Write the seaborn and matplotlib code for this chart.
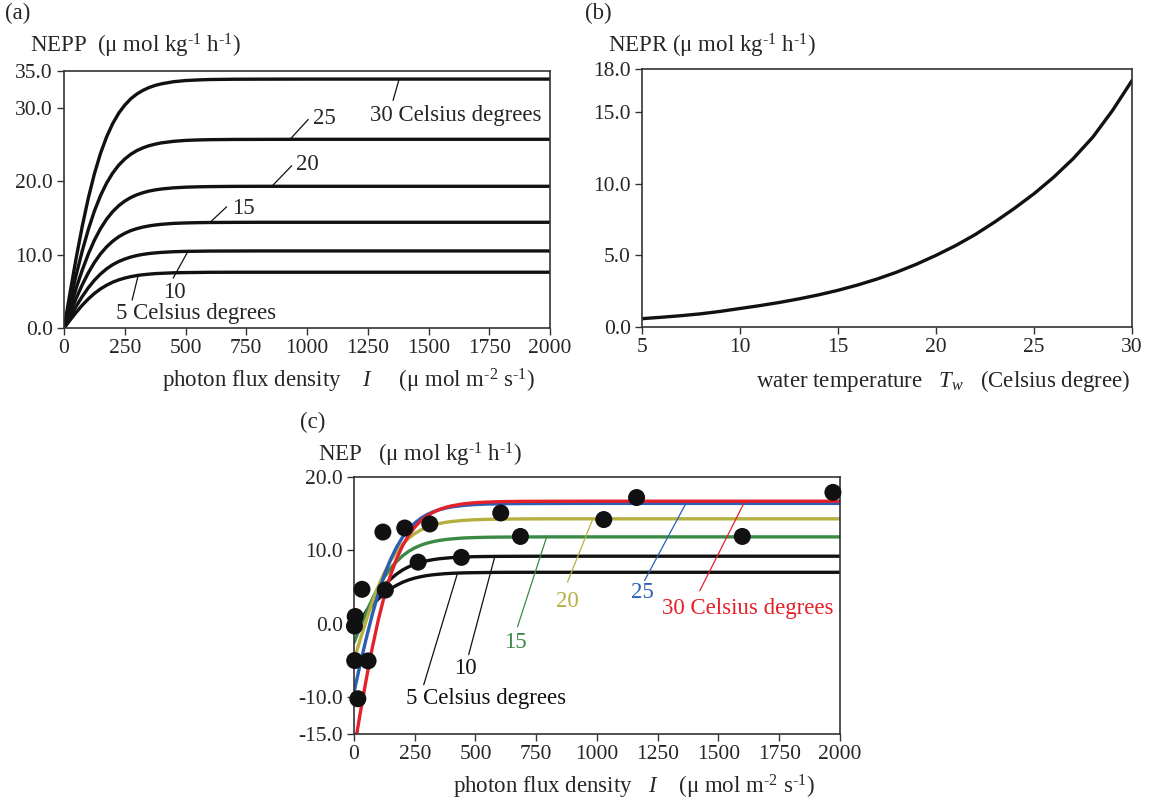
import matplotlib
matplotlib.use("Agg")
import matplotlib.pyplot as plt
import seaborn as sns

# ---------------- data ----------------
I_pts = [0, 25, 50, 75, 100, 125, 150, 175, 200, 225, 250, 275, 300, 325, 350, 375, 400,
         450, 500, 550, 600, 700, 800, 1000, 1500, 2000]

# (a) NEPP by water temperature
nepp_5  = [0, 1.09, 2.14, 3.11, 3.97, 4.71, 5.33, 5.83, 6.24, 6.56, 6.81, 7.00, 7.15, 7.26, 7.34,
           7.41, 7.45, 7.52, 7.55, 7.57, 7.59, 7.60, 7.60, 7.6, 7.6, 7.6]
nepp_10 = [0, 1.51, 2.96, 4.30, 5.49, 6.51, 7.36, 8.06, 8.62, 9.06, 9.40, 9.67, 9.88, 10.03, 10.15,
           10.23, 10.30, 10.39, 10.44, 10.46, 10.48, 10.49, 10.50, 10.5, 10.5, 10.5]
nepp_15 = [0, 2.07, 4.06, 5.90, 7.53, 8.93, 10.10, 11.05, 11.82, 12.43, 12.90, 13.27, 13.54, 13.75,
           13.91, 14.03, 14.12, 14.25, 14.31, 14.35, 14.37, 14.39, 14.40, 14.4, 14.4, 14.4]
nepp_20 = [0, 2.78, 5.44, 7.90, 10.09, 11.97, 13.54, 14.82, 15.85, 16.66, 17.29, 17.78, 18.15, 18.43,
           18.65, 18.81, 18.93, 19.09, 19.18, 19.23, 19.26, 19.29, 19.30, 19.3, 19.3, 19.3]
nepp_25 = [0, 3.70, 7.25, 10.52, 13.43, 15.94, 18.03, 19.73, 21.10, 22.18, 23.02, 23.67, 24.17, 24.54,
           24.83, 25.04, 25.21, 25.42, 25.55, 25.61, 25.65, 25.68, 25.69, 25.7, 25.7, 25.7]
nepp_30 = [0, 4.88, 9.56, 13.88, 17.72, 21.02, 23.78, 26.02, 27.83, 29.26, 30.36, 31.23, 31.88, 32.37,
           32.75, 33.04, 33.25, 33.54, 33.70, 33.78, 33.84, 33.88, 33.89, 33.9, 33.9, 33.9]

# (b) NEPR vs water temperature
Tw   = [5, 6, 7, 8, 9, 10, 11, 12, 13, 14, 15, 16, 17, 18, 19, 20, 21, 22, 23, 24, 25, 26, 27, 28, 29, 30]
nepr = [0.58, 0.68, 0.79, 0.92, 1.09, 1.29, 1.49, 1.71, 1.96, 2.24, 2.56, 2.93, 3.35, 3.83, 4.38, 5.0,
        5.68, 6.45, 7.33, 8.28, 9.3, 10.45, 11.75, 13.25, 15.1, 17.2]

# (c) NEP by water temperature
nep_5  = [-0.58, 0.51, 1.56, 2.53, 3.39, 4.13, 4.75, 5.25, 5.66, 5.98, 6.23, 6.42, 6.57, 6.68, 6.76,
          6.83, 6.88, 6.94, 6.97, 6.99, 7.01, 7.02, 7.02, 7.02, 7.02, 7.02]
nep_10 = [-1.29, 0.22, 1.67, 3.01, 4.20, 5.22, 6.07, 6.77, 7.33, 7.77, 8.11, 8.38, 8.59, 8.74, 8.86,
          8.94, 9.01, 9.10, 9.15, 9.17, 9.19, 9.20, 9.21, 9.21, 9.21, 9.21]
nep_15 = [-2.56, -0.49, 1.50, 3.34, 4.97, 6.37, 7.54, 8.49, 9.26, 9.87, 10.34, 10.71, 10.98, 11.19,
          11.35, 11.47, 11.56, 11.69, 11.75, 11.79, 11.81, 11.83, 11.84, 11.84, 11.84, 11.84]
nep_20 = [-5.0, -2.22, 0.44, 2.90, 5.09, 6.97, 8.54, 9.82, 10.85, 11.66, 12.29, 12.78, 13.15, 13.43,
          13.65, 13.81, 13.93, 14.09, 14.18, 14.23, 14.26, 14.29, 14.30, 14.3, 14.3, 14.3]
nep_25 = [-9.3, -5.60, -2.05, 1.22, 4.13, 6.64, 8.73, 10.43, 11.80, 12.88, 13.72, 14.37, 14.87, 15.24,
          15.53, 15.74, 15.91, 16.12, 16.25, 16.31, 16.35, 16.38, 16.39, 16.4, 16.4, 16.4]
nep_30 = [-17.2, -12.32, -7.64, -3.32, 0.52, 3.82, 6.58, 8.82, 10.63, 12.06, 13.16, 14.03, 14.68, 15.17,
          15.55, 15.84, 16.05, 16.34, 16.50, 16.58, 16.64, 16.68, 16.69, 16.7, 16.7, 16.7]

# (c) observations
obs_I   = [2, 5, 3, 16, 33, 58, 119, 129, 209, 264, 312, 442, 604, 685, 1028, 1163, 1598, 1971]
obs_nep = [-0.3, 1.0, -5.0, -10.2, 4.7, -5.05, 12.5, 4.6, 13.05, 8.4, 13.6, 9.05, 15.1, 11.9, 14.2, 17.2, 11.9, 17.9]

x_ticks_I = [0, 250, 500, 750, 1000, 1250, 1500, 1750, 2000]
a_yticks = [0, 10, 20, 30, 35]
a_ylabels = ["0.0", "10.0", "20.0", "30.0", "35.0"]
b_xticks = [5, 10, 15, 20, 25, 30]
b_yticks = [0, 5, 10, 15, 18]
b_ylabels = ["0.0", "5.0", "10.0", "15.0", "18.0"]
c_yticks = [-15, -10, 0, 10, 20]
c_ylabels = ["-15.0", "-10.0", "0.0", "10.0", "20.0"]

# ---------------- style ----------------
sns.set_style("ticks")
plt.rcParams["font.family"] = ["Liberation Serif", "DejaVu Serif"]
plt.rcParams["mathtext.fontset"] = "custom"
plt.rcParams["mathtext.rm"] = "Liberation Serif"
plt.rcParams["mathtext.it"] = "Liberation Serif:italic"
plt.rcParams["axes.unicode_minus"] = False

FS_TICK = 15.5
FS_LAB = 16.5
FS_ANN = 16.5
SPINE = "#333333"
BLACK = "#111111"
RED, BLUE, YEL, GRN = "#e4202a", "#2a5fb5", "#b5b040", "#3a8a45"

fig = plt.figure(figsize=(11.5, 8.05), dpi=100)
ax_a = fig.add_axes([0.0557, 0.5925, 0.4226, 0.3193])
ax_b = fig.add_axes([0.5583, 0.5938, 0.4261, 0.3205])
ax_c = fig.add_axes([0.3078, 0.0882, 0.4226, 0.3193])


def style_axes(ax):
    for s in ax.spines.values():
        s.set_color(SPINE)
        s.set_linewidth(1.2)
        s.set_visible(True)
    ax.tick_params(direction="out", length=5, width=1.0, color=SPINE,
                   labelsize=FS_TICK, pad=3, top=False, right=False)
    ax.set_xlabel("")
    ax.set_ylabel("")


def leader(ax, p0, p1, col):
    ax.annotate("", xy=p0, xytext=p1,
                arrowprops=dict(arrowstyle="-", color=col, lw=0.9, shrinkA=0, shrinkB=0))


# ---------------- (a) ----------------
for ys in [nepp_5, nepp_10, nepp_15, nepp_20, nepp_25, nepp_30]:
    sns.lineplot(x=I_pts, y=ys, ax=ax_a, color=BLACK, linewidth=2.4)
ax_a.set_xlim(0, 2000)
ax_a.set_ylim(0, 35)
ax_a.set_xticks(x_ticks_I)
ax_a.set_yticks(a_yticks)
ax_a.set_yticklabels(a_ylabels)
style_axes(ax_a)

leader(ax_a, (1379, 33.9), (1354, 31.0), BLACK)
ax_a.text(1259, 29.0, "30 Celsius degrees", fontsize=FS_ANN, va="center", ha="left")
leader(ax_a, (930, 25.7), (1005, 28.4), BLACK)
ax_a.text(1026, 28.6, "25", fontsize=FS_ANN, va="center", ha="left")
leader(ax_a, (855, 19.3), (937, 22.1), BLACK)
ax_a.text(955, 22.3, "20", fontsize=FS_ANN, va="center", ha="left")
leader(ax_a, (601, 14.4), (669, 16.5), BLACK)
ax_a.text(690, 16.3, "15", fontsize=FS_ANN, va="center", ha="left")
leader(ax_a, (510, 10.45), (449, 6.8), BLACK)
ax_a.text(455, 4.9, "10", fontsize=FS_ANN, va="center", ha="center")
leader(ax_a, (305, 7.15), (280, 3.8), BLACK)
ax_a.text(215, 2.0, "5 Celsius degrees", fontsize=FS_ANN, va="center", ha="left")

# ---------------- (b) ----------------
sns.lineplot(x=Tw, y=nepr, ax=ax_b, color=BLACK, linewidth=2.4)
ax_b.set_xlim(5, 30)
ax_b.set_ylim(0, 18)
ax_b.set_xticks(b_xticks)
ax_b.set_yticks(b_yticks)
ax_b.set_yticklabels(b_ylabels)
style_axes(ax_b)

# ---------------- (c) ----------------
c_series = [(nep_5, BLACK), (nep_10, BLACK), (nep_15, GRN),
            (nep_20, YEL), (nep_25, BLUE), (nep_30, RED)]
for ys, col in c_series:
    sns.lineplot(x=I_pts, y=ys, ax=ax_c, color=col, linewidth=2.4)
sns.scatterplot(x=obs_I, y=obs_nep, ax=ax_c, color=BLACK, s=150,
                edgecolor="none", zorder=5, clip_on=False)
ax_c.set_xlim(0, 2000)
ax_c.set_ylim(-15, 20)
ax_c.set_xticks(x_ticks_I)
ax_c.set_yticks(c_yticks)
ax_c.set_yticklabels(c_ylabels)
style_axes(ax_c)

leader(ax_c, (1609, 16.7), (1423, 4.5), RED)
ax_c.text(1620, 2.1, "30 Celsius degrees", color=RED, fontsize=FS_ANN, ha="center", va="center")
leader(ax_c, (1366, 16.4), (1196, 5.9), BLUE)
ax_c.text(1188, 4.3, "25", color=BLUE, fontsize=FS_ANN, ha="center", va="center")
leader(ax_c, (983, 14.3), (879, 5.7), YEL)
ax_c.text(879, 3.0, "20", color=YEL, fontsize=FS_ANN, ha="center", va="center")
leader(ax_c, (793, 11.84), (673, -0.4), GRN)
ax_c.text(665, -2.6, "15", color=GRN, fontsize=FS_ANN, ha="center", va="center")
leader(ax_c, (580, 9.21), (472, -4.2), BLACK)
ax_c.text(460, -6.1, "10", color=BLACK, fontsize=FS_ANN, ha="center", va="center")
leader(ax_c, (427, 7.0), (287, -8.3), BLACK)
ax_c.text(543, -10.1, "5 Celsius degrees", color=BLACK, fontsize=FS_ANN, ha="center", va="center")

# ---------------- figure texts ----------------
W, H = 1150.0, 805.0


def ftext(xpx, ypx, s, fs=FS_LAB):
    fig.text(xpx / W, 1 - ypx / H, s, fontsize=fs, ha="left", va="center")


m1 = r"$^{\text{-1}}$"
m2 = r"$^{\text{-2}}$"
ftext(5, 13, "(a)")
ftext(30, 46, "NEPP  (μ mol kg" + m1 + " h" + m1 + ")")
ftext(585, 13, "(b)")
ftext(608, 46, "NEPR (μ mol kg" + m1 + " h" + m1 + ")")
ftext(300, 422, "(c)")
ftext(318, 455, "NEP   (μ mol kg" + m1 + " h" + m1 + ")")
ftext(162, 381, "photon flux density    $I$     (μ mol m" + m2 + " s" + m1 + ")")
ftext(756, 381, "water temperature   $T_w$   (Celsius degree)")
ftext(453, 787, "photon flux density   $I$    (μ mol m" + m2 + " s" + m1 + ")")

fig.savefig("out.png", dpi=100, facecolor="white")
